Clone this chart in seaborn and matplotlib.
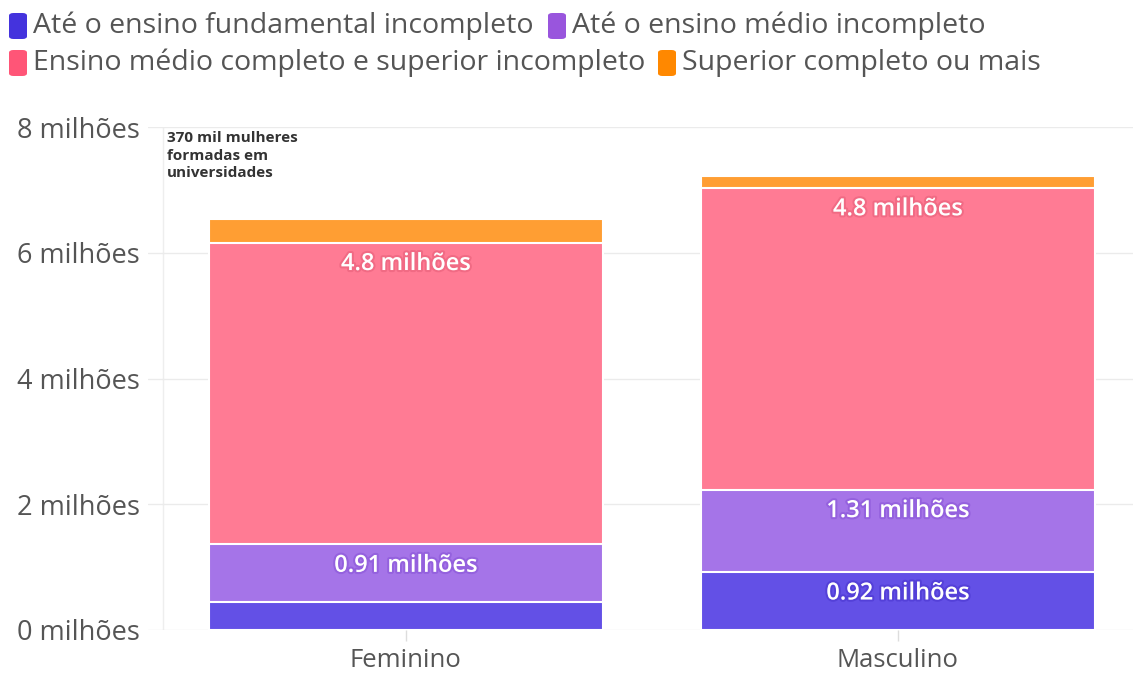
import matplotlib
matplotlib.use("Agg")
import matplotlib.pyplot as plt
import matplotlib.patheffects as pe
from matplotlib.patches import FancyBboxPatch
import numpy as np
import seaborn as sns

# ---- data (milhões de pessoas) ----
categorias = ["Feminino", "Masculino"]
fundamental_incompleto = [0.45, 0.92]
medio_incompleto = [0.91, 1.31]
medio_completo = [4.8, 4.8]
superior_completo = [0.37, 0.19]
niveis = ["Até o ensino fundamental incompleto", "Até o ensino médio incompleto",
          "Ensino médio completo e superior incompleto", "Superior completo ou mais"]
rotulos_fundamental = ["", "0.92 milhões"]
rotulos_medio_inc = ["0.91 milhões", "1.31 milhões"]
rotulos_medio_comp = ["4.8 milhões", "4.8 milhões"]
y_ticks = [0, 2, 4, 6, 8]
y_tick_labels = ["0 milhões", "2 milhões", "4 milhões", "6 milhões", "8 milhões"]
anotacao = "370 mil mulheres\nformadas em\nuniversidades"

bar_colors = ["#6350E6", "#A574E8", "#FF7B94", "#FF9E33"]
legend_colors = ["#4433DD", "#9955DD", "#FF5577", "#FF8800"]

sns.set_theme(style="white")
plt.rcParams['font.family'] = ['Open Sans', 'DejaVu Sans']

W, H = 1133, 673
fig = plt.figure(figsize=(W / 100, H / 100), dpi=100)
ax = fig.add_axes([148 / W, 1 - 630 / H, 1 - 148 / W, (630 - 127) / H])

stack = np.array([fundamental_incompleto, medio_incompleto, medio_completo, superior_completo])
cum = np.cumsum(stack, axis=0)
for i in reversed(range(len(stack))):
    sns.barplot(x=categorias, y=cum[i], color=bar_colors[i], width=0.8, saturation=1,
                edgecolor="white", linewidth=1.5, ax=ax)

# containers: 0 superior, 1 medio comp, 2 medio inc, 3 fundamental
label_kw = dict(padding=-24, color="white", fontsize=17, fontweight="semibold")
for k, labels, c in [(1, rotulos_medio_comp, "#E8607A"), (2, rotulos_medio_inc, "#8A55D8"),
                     (3, rotulos_fundamental, "#4A36D0")]:
    texts = ax.bar_label(ax.containers[k], labels=labels, **label_kw)
    for t in texts:
        t.set_path_effects([pe.withStroke(linewidth=3, foreground=c, alpha=0.6)])

ax.set_ylim(0, 8)
ax.set_xlim(-0.524, 1.478)
ax.set_yticks(y_ticks)
ax.set_yticklabels(y_tick_labels)
ax.yaxis.grid(True, color="#ebebeb", linewidth=1)
ax.set_axisbelow(True)
for s in ax.spines.values():
    s.set_visible(False)
ax.tick_params(axis="y", length=0, pad=6, labelsize=19.5, labelcolor="#555555")
ax.tick_params(axis="x", length=8, width=1, color="#dddddd", pad=5, labelsize=18.5,
               labelcolor="#555555", bottom=True)
ax.set_xlabel("")
ax.set_ylabel("")

# annotation with leader line
ax.axvline(-0.494, color="#eeeeee", linewidth=1, zorder=0)
ax.text(-0.486, 7.93, anotacao, va="top", ha="left", fontsize=11,
        fontweight="bold", color="#333333", linespacing=1.3)

# legend (two wrapped rows)
items = [(9, 26, 0), (548, 26, 1), (9, 63, 2), (658, 63, 3)]
for x, yc, i in items:
    box = FancyBboxPatch((x / W, 1 - (yc + 13) / H), 18 / W, 26 / H,
                         boxstyle="round,pad=0,rounding_size=0.004",
                         transform=fig.transFigure, facecolor=legend_colors[i],
                         edgecolor="none")
    fig.patches.append(box)
    fig.text((x + 24) / W, 1 - yc / H, niveis[i], va="center", ha="left",
             fontsize=20.5, color="#555555")

fig.savefig("out.png", dpi=100)
